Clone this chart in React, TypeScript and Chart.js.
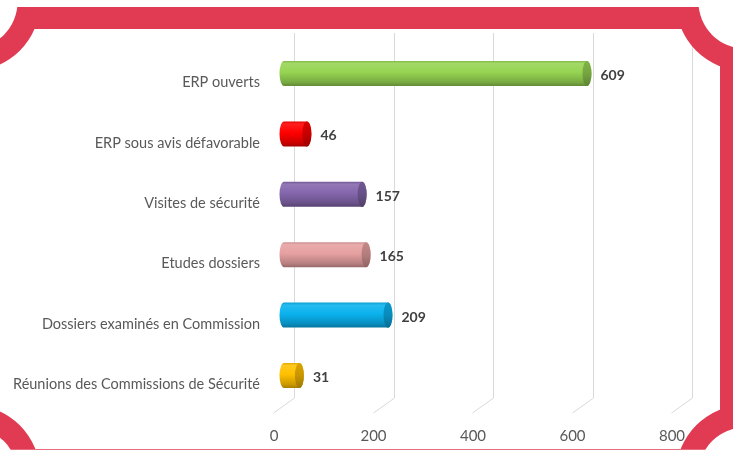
import { useEffect, useRef } from "react";
import { Chart, registerables } from "chart.js";

Chart.register(...registerables);

const categories = [
  "ERP ouverts",
  "ERP sous avis défavorable",
  "Visites de sécurité",
  "Etudes dossiers",
  "Dossiers examinés en Commission",
  "Réunions des Commissions de Sécurité",
];
const values = [609, 46, 157, 165, 209, 31];
const tickValues = [0, 200, 400, 600, 800];
const barColors = ["#96D452", "#FF0000", "#8466AC", "#E6A0A0", "#0AB2EE", "#FFC000"];

const FONT = "Lato, 'Open Sans', sans-serif";

function hexToRgb(hex: string) {
  const h = hex.replace("#", "");
  return [parseInt(h.slice(0, 2), 16), parseInt(h.slice(2, 4), 16), parseInt(h.slice(4, 6), 16)];
}
function mix(hex: string, target: number[], t: number) {
  const c = hexToRgb(hex);
  const r = c.map((v, i) => Math.round(v + (target[i] - v) * t));
  return `rgb(${r[0]},${r[1]},${r[2]})`;
}
const dark = (hex: string, t: number) => mix(hex, [0, 0, 0], t);
const light = (hex: string, t: number) => mix(hex, [255, 255, 255], t);

const DEPTH_X = 10;

const gridPlugin = {
  id: "grid3d",
  beforeDatasetsDraw(chart: any) {
    const { ctx } = chart;
    const xs = chart.scales.x;
    ctx.save();
    ctx.strokeStyle = "#D9D9D9";
    ctx.lineWidth = 1;
    tickValues.forEach((v) => {
      const px = Math.round(xs.getPixelForValue(v)) + 0.5;
      ctx.beginPath();
      ctx.moveTo(px + DEPTH_X, 33);
      ctx.lineTo(px + DEPTH_X, 398);
      ctx.lineTo(px - DEPTH_X - 1, 413);
      ctx.stroke();
    });
    ctx.restore();
  },
};

const cylinderPlugin = {
  id: "cylinders",
  afterDatasetsDraw(chart: any) {
    const { ctx } = chart;
    const meta = chart.getDatasetMeta(0);
    ctx.save();
    meta.data.forEach((el: any, i: number) => {
      const p = el.getProps(["x", "y", "base", "height"], true);
      const c = barColors[i % barColors.length];
      const rx = 4.5;
      const ry = p.height / 2;
      const x0 = p.base;
      const x1 = p.x;
      const top = p.y - ry;
      const bottom = p.y + ry;
      const g = ctx.createLinearGradient(0, top, 0, bottom);
      g.addColorStop(0, dark(c, 0.12));
      g.addColorStop(0.1, light(c, 0.12));
      g.addColorStop(0.45, c);
      g.addColorStop(0.85, dark(c, 0.2));
      g.addColorStop(1, dark(c, 0.35));
      ctx.beginPath();
      ctx.moveTo(x0, top);
      ctx.lineTo(x1, top);
      ctx.ellipse(x1, p.y, rx, ry, 0, -Math.PI / 2, Math.PI / 2, false);
      ctx.lineTo(x0, bottom);
      ctx.ellipse(x0, p.y, rx, ry, 0, Math.PI / 2, (3 * Math.PI) / 2, false);
      ctx.closePath();
      ctx.fillStyle = g;
      ctx.fill();
      const gc = ctx.createLinearGradient(0, top, 0, bottom);
      gc.addColorStop(0, dark(c, 0.15));
      gc.addColorStop(0.5, dark(c, 0.22));
      gc.addColorStop(1, dark(c, 0.38));
      ctx.beginPath();
      ctx.ellipse(x1, p.y, rx, ry, 0, 0, Math.PI * 2);
      ctx.fillStyle = gc;
      ctx.fill();
      ctx.font = `bold 14px ${FONT}`;
      ctx.fillStyle = "#404040";
      ctx.textAlign = "left";
      ctx.textBaseline = "middle";
      ctx.fillText(String(values[i]), x1 + rx + 9, p.y + 2);
    });
    ctx.restore();
  },
};

const framePlugin = {
  id: "frame",
  afterDraw(chart: any) {
    const { ctx } = chart;
    const W = chart.width;
    const H = chart.height;
    const off = document.createElement("canvas");
    off.width = W;
    off.height = H;
    const o = off.getContext("2d")!;
    const red = "#E13B53";
    const outer = { l: -27, t: 7, r: 742, b: 470 };
    const inner = { l: -5, t: 29, r: 720, b: 449.5 };
    const centers = [
      [-29, 2],
      [745, 2],
      [-29, 474],
      [745, 474],
    ];
    const ro = 46.5;
    const ri = 69;
    o.fillStyle = red;
    o.fillRect(outer.l, outer.t, outer.r - outer.l, outer.b - outer.t);
    o.globalCompositeOperation = "destination-out";
    o.fillStyle = "#000";
    centers.forEach(([cx, cy]) => {
      o.beginPath();
      o.arc(cx, cy, ro, 0, Math.PI * 2);
      o.fill();
    });
    o.save();
    o.beginPath();
    o.rect(inner.l, inner.t, inner.r - inner.l, inner.b - inner.t);
    o.clip();
    o.beginPath();
    o.rect(inner.l, inner.t, inner.r - inner.l, inner.b - inner.t);
    centers.forEach(([cx, cy]) => {
      o.moveTo(cx + ri, cy);
      o.arc(cx, cy, ri, 0, Math.PI * 2);
    });
    o.fill("evenodd");
    o.restore();
    ctx.save();
    ctx.drawImage(off, 0, 0);
    ctx.restore();
  },
};

export default function App() {
  const ref = useRef<HTMLCanvasElement | null>(null);
  useEffect(() => {
    document.body.style.margin = "0";
    const canvas = ref.current!;
    const chart = new Chart(canvas, {
      type: "bar",
      data: {
        labels: categories,
        datasets: [
          {
            data: values,
            backgroundColor: "rgba(0,0,0,0)",
            borderWidth: 0,
            barThickness: 25,
          },
        ],
      },
      plugins: [gridPlugin, cylinderPlugin, framePlugin],
      options: {
        indexAxis: "y",
        responsive: false,
        maintainAspectRatio: false,
        animation: false,
        layout: { padding: { top: 43.3, right: 51, bottom: 0, left: 0 } },
        plugins: {
          legend: { display: false },
          tooltip: { enabled: false },
          title: { display: false },
        },
        scales: {
          x: {
            type: "linear",
            min: 0,
            max: 800,
            afterBuildTicks: (s: any) => {
              s.ticks = tickValues.map((v) => ({ value: v }));
            },
            ticks: {
              color: "#595959",
              font: { family: FONT, size: 15 },
              padding: 21,
              labelOffset: -10,
              maxRotation: 0,
              autoSkip: false,
            },
            grid: { display: false, drawTicks: false },
            border: { display: false },
            afterFit: (s: any) => {
              s.height = 44.3;
            },
          },
          y: {
            ticks: {
              color: "#595959",
              font: { family: FONT, size: 14.5 },
              padding: 24,
              labelOffset: 9,
              autoSkip: false,
            },
            grid: { display: false, drawTicks: false },
            border: { display: false },
            afterFit: (s: any) => {
              s.width = 284;
            },
          },
        },
      },
    } as any);
    return () => chart.destroy();
  }, []);
  return <canvas ref={ref} width={733} height={450} style={{ display: "block" }} />;
}
